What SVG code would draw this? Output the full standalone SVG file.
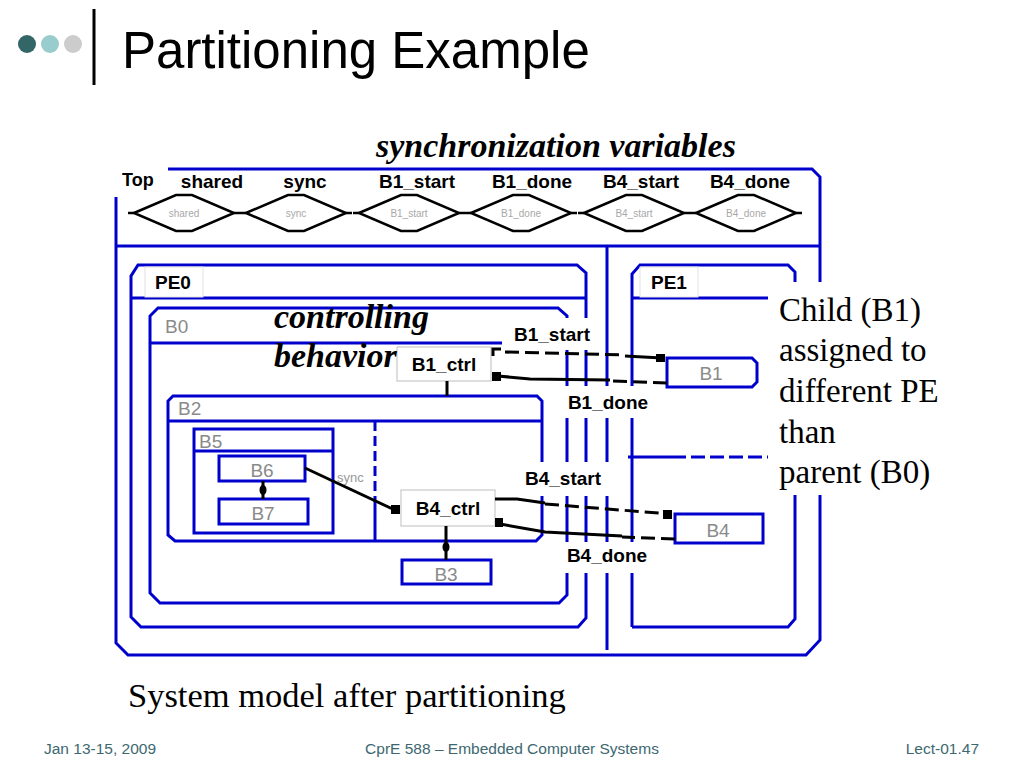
<svg xmlns="http://www.w3.org/2000/svg" width="1024" height="768" viewBox="0 0 1024 768">
<style>
.bl{fill:none;stroke:#0000cc;stroke-width:3}
.bx{fill:#fff;stroke:#0000cc;stroke-width:3}
.ctrl{fill:#fff;stroke:#c8c8c8;stroke-width:1.2}
.lb{font-family:"Liberation Sans",Arial,sans-serif;font-weight:bold;font-size:19px;fill:#000}
.gl{font-family:"Liberation Sans",Arial,sans-serif;font-size:19px;fill:#8a8a8a}
.sg{font-family:"Liberation Sans",Arial,sans-serif;font-size:10px;fill:#a8a8a8}
.bi{font-family:"Liberation Serif","Times New Roman",serif;font-weight:bold;font-style:italic;font-size:34px;fill:#000}
.sr{font-family:"Liberation Serif","Times New Roman",serif;font-size:33px;fill:#000}
.ft{font-family:"Liberation Sans",Arial,sans-serif;font-size:15.5px;fill:#3d6870}
.wh{fill:#fff;stroke:none}
.cn{fill:none;stroke:#000;stroke-width:3}
.ds{stroke-dasharray:14 6}
</style>
<defs>
<g id="dia">
<polygon points="-50,0 -8,-18 8,-18 50,0 8,18 -8,18" fill="none" stroke="#000" stroke-width="2.5"/>
<path d="M-56,0 H-50 M50,0 H56" stroke="#000" stroke-width="2.5"/>
</g>
</defs>
<rect width="1024" height="768" fill="#fff"/>

<!-- title -->
<g id="title">
<circle cx="27" cy="44" r="9" fill="#336666"/>
<circle cx="50" cy="44" r="9" fill="#99cccc"/>
<circle cx="73" cy="44" r="9" fill="#cccccc"/>
<line x1="94" y1="9" x2="94" y2="85" stroke="#000" stroke-width="3"/>
<text x="122" y="68" font-family="Liberation Sans,Arial,sans-serif" font-size="51" fill="#000">Partitioning Example</text>
</g>

<text x="376" y="157" class="bi">synchronization variables</text>

<!-- Top -->
<g id="top">
<path class="bl" d="M168,169 H812 L820,177 V282 M820,495 V640 L806,655 H128 L116,643 V197 M116,246 H820 M607,246 V650"/>
</g>

<!-- signals -->
<g id="signals">
<use href="#dia" x="184" y="213"/>
<use href="#dia" x="296" y="213"/>
<use href="#dia" x="409" y="213"/>
<use href="#dia" x="521" y="213"/>
<use href="#dia" x="634" y="213"/>
<use href="#dia" x="746" y="213"/>
<text class="sg" x="184" y="217" text-anchor="middle">shared</text>
<text class="sg" x="296" y="217" text-anchor="middle">sync</text>
<text class="sg" x="409" y="217" text-anchor="middle">B1_start</text>
<text class="sg" x="521" y="217" text-anchor="middle">B1_done</text>
<text class="sg" x="634" y="217" text-anchor="middle">B4_start</text>
<text class="sg" x="746" y="217" text-anchor="middle">B4_done</text>
<text class="lb" x="122" y="186" style="font-size:18px">Top</text>
<text class="lb" x="212" y="188" text-anchor="middle">shared</text>
<text class="lb" x="305" y="188" text-anchor="middle">sync</text>
<text class="lb" x="417" y="188" text-anchor="middle">B1_start</text>
<text class="lb" x="532" y="188" text-anchor="middle">B1_done</text>
<text class="lb" x="641" y="188" text-anchor="middle">B4_start</text>
<text class="lb" x="750" y="188" text-anchor="middle">B4_done</text>
</g>

<!-- PE0 -->
<g id="pe0">
<path class="bl" d="M131,298 V276 L138,265 H577 L586,273 V618 L578,627 H141 L131,617 V298 H586"/>
<rect x="145" y="267" width="58" height="30" fill="#fff" stroke="#e2e2e2" stroke-width="1"/>
<text class="lb" x="155" y="289">PE0</text>
</g>

<!-- PE1 -->
<g id="pe1">
<path class="bl" d="M632,627 V274 L640,265 H788 L795,272 V282 M795,495 V619 L788,627 H632 M632,298 H768"/>
<path class="bl" d="M628,457 H672"/>
<path class="bl" d="M672,457 H768" stroke-dasharray="14 5"/>
<rect x="640" y="267" width="58" height="30" fill="#fff" stroke="#e2e2e2" stroke-width="1"/>
<text class="lb" x="651" y="289">PE1</text>
</g>

<!-- B0 -->
<g id="b0">
<path class="bl" d="M150,343 V316 L158,308 H558 L567,316 V595 L559,603 H160 L150,593 V343 H502"/>
<text class="gl" x="165" y="333">B0</text>
</g>

<!-- B2 -->
<g id="b2">
<path class="bl" d="M168,421 V401 L173,396 H537 L542,401 V535 L536,541 H175 L168,535 V421 H542"/>
<path class="bl" d="M375,421 V497" stroke-dasharray="10 5"/>
<path class="bl" d="M375,497 V541"/>
<text class="gl" x="178" y="415">B2</text>
</g>

<!-- B5 -->
<g id="b5">
<rect class="bx" x="194" y="429" width="139" height="104"/>
<path class="bl" d="M194,451 H333"/>
<text class="gl" x="199" y="448">B5</text>
</g>

<g id="b6">
<rect class="bx" x="219" y="456" width="86" height="25"/>
<text class="gl" x="262" y="477" text-anchor="middle">B6</text>
</g>
<g id="b7">
<rect class="bx" x="219" y="499" width="89" height="25"/>
<text class="gl" x="263" y="520" text-anchor="middle">B7</text>
</g>
<g id="b3">
<rect class="bx" x="402" y="560" width="89" height="24"/>
<text class="gl" x="446" y="581" text-anchor="middle">B3</text>
</g>
<g id="b1">
<path class="bx" d="M667,358 H752 L757,363 V382 L752,387 H667 Z"/>
<text class="gl" x="711" y="380" text-anchor="middle">B1</text>
</g>
<g id="b4">
<rect class="bx" x="675" y="514" width="88" height="29"/>
<text class="gl" x="718" y="537" text-anchor="middle">B4</text>
</g>

<!-- label backgrounds covering lines -->
<rect class="wh" x="508" y="318" width="90" height="32"/>
<rect class="wh" x="560" y="386" width="98" height="32"/>
<rect class="wh" x="518" y="462" width="92" height="34"/>
<rect class="wh" x="560" y="542" width="98" height="31"/>
<rect class="wh" x="770" y="282" width="190" height="213"/>

<g id="b1ctrl">
<rect class="ctrl" x="397" y="347" width="94" height="34"/>
<text class="lb" x="444" y="371" text-anchor="middle">B1_ctrl</text>
</g>
<g id="b4ctrl">
<rect class="ctrl" x="401" y="490" width="94" height="36"/>
<text class="lb" x="448" y="515" text-anchor="middle">B4_ctrl</text>
</g>

<!-- connectors -->
<g id="connectors">
<path class="cn" d="M447,381 V396" stroke-width="5"/>
<path class="cn" d="M263,481 V499"/>
<ellipse cx="263" cy="490" rx="3.5" ry="5" fill="#000"/>
<path class="cn" d="M305,468 L397,511"/>
<rect x="391" y="505" width="9" height="9" fill="#000"/>
<path class="cn" d="M446,526 V560"/>
<ellipse cx="446" cy="547" rx="3.5" ry="5" fill="#000"/>
<path class="cn" d="M493,356 V349 H501"/>
<path class="cn ds" d="M505,352 L625,355"/>
<path class="cn" d="M625,356 L662,358"/>
<rect x="656" y="354" width="9" height="8" fill="#000"/>
<path class="cn ds" d="M667,383 L610,381"/>
<path class="cn" d="M610,380 L530,379 L498,376"/>
<rect x="492" y="372" width="9" height="9" fill="#000"/>
<path class="cn" d="M495,499 H517 L545,503"/>
<path class="cn ds" d="M545,504 L670,514"/>
<rect x="663" y="510" width="9" height="9" fill="#000"/>
<path class="cn ds" d="M675,539 L622,537"/>
<path class="cn" d="M622,536 L545,532 L500,524"/>
<rect x="495" y="518" width="8" height="9" fill="#000"/>
<text x="337" y="482" font-family="Liberation Sans,Arial,sans-serif" font-size="13" fill="#999">sync</text>
</g>

<!-- connector labels -->
<text class="lb" x="552" y="341" text-anchor="middle">B1_start</text>
<text class="lb" x="608" y="409" text-anchor="middle">B1_done</text>
<text class="lb" x="563" y="485" text-anchor="middle">B4_start</text>
<text class="lb" x="607" y="562" text-anchor="middle">B4_done</text>

<text class="bi" x="274" y="328">controlling</text>
<text class="bi" x="274" y="367">behavior</text>

<text class="sr" x="779" y="321">Child (B1)</text>
<text class="sr" x="779" y="361">assigned to</text>
<text class="sr" x="779" y="402">different PE</text>
<text class="sr" x="779" y="443">than</text>
<text class="sr" x="779" y="483">parent (B0)</text>

<text class="sr" x="128" y="707" style="font-size:34.5px">System model after partitioning</text>

<text class="ft" x="44" y="754">Jan 13-15, 2009</text>
<text class="ft" x="512" y="754" text-anchor="middle">CprE 588 – Embedded Computer Systems</text>
<text class="ft" x="979" y="754" text-anchor="end">Lect-01.47</text>
</svg>
